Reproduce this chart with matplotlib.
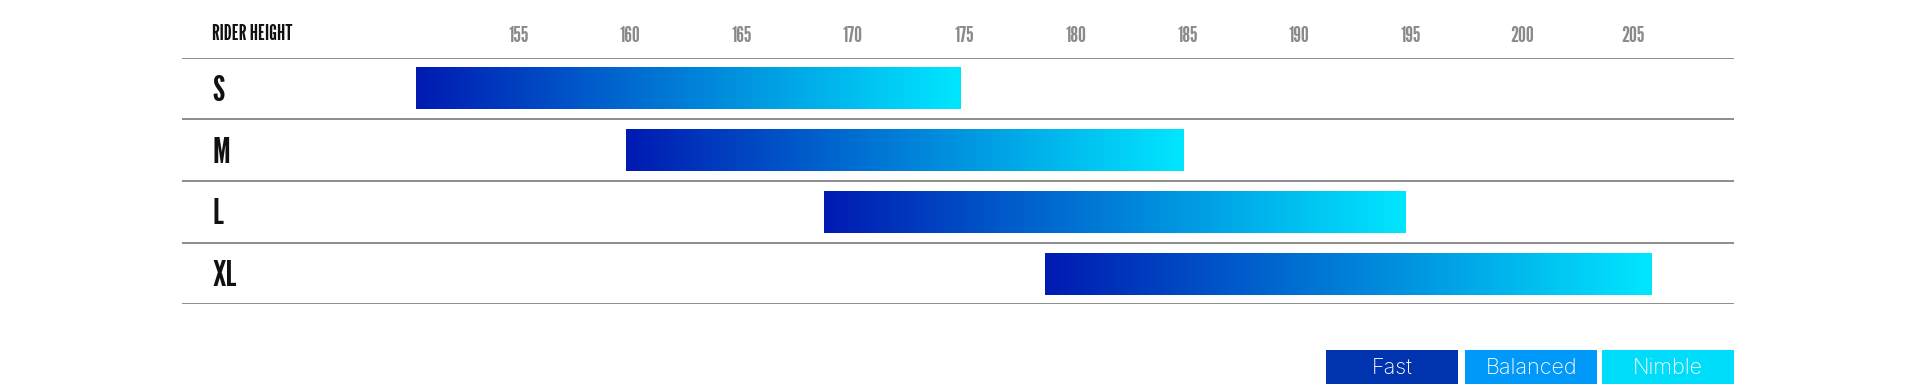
import numpy as np
import matplotlib
matplotlib.use("Agg")
import matplotlib.pyplot as plt
from matplotlib.colors import LinearSegmentedColormap
from matplotlib.patches import Rectangle
from matplotlib.transforms import ScaledTranslation, blended_transform_factory

# ---- data ----
sizes = ["S", "M", "L", "XL"]
height_min = [150.6, 160, 168.9, 178.8]
height_max = [175, 185, 195, 206]
tick_values = [155, 160, 165, 170, 175, 180, 185, 190, 195, 200, 205]
tick_labels = [str(v) for v in tick_values]
header = "RIDER HEIGHT"
legend_labels = ["Fast", "Balanced", "Nimble"]
legend_colors = ["#0033AE", "#0099FA", "#00DDFB"]

COND = ["League Gothic", "Bebas Neue", "DejaVu Sans"]
LIGHT = ["Inter", "Lato", "DejaVu Sans"]

W, H = 1920, 384
fig = plt.figure(figsize=(W / 100, H / 100), dpi=100)
fig.patch.set_facecolor("white")

left, right = 182 / W, 1734 / W
bottom, top = 1 - 304.4 / H, 1 - 57.5 / H
ax = fig.add_axes([left, bottom, right - left, top - bottom])

cmap = LinearSegmentedColormap.from_list("grad", ["#001AB2", "#0080D8", "#00E6FF"])
grad = np.linspace(0, 1, 256).reshape(1, -1)
bar_h = 0.68
for i, (lo, hi) in enumerate(zip(height_min, height_max)):
    ax.imshow(grad, cmap=cmap, aspect="auto",
              extent=(lo, hi, i + bar_h / 2, i - bar_h / 2),
              interpolation="bicubic", zorder=2)

for yy in np.arange(-0.5, len(sizes), 1.0):
    ax.axhline(yy, color="#8c8c8c", lw=1.4, zorder=3)

ax.set_xlim(140.09, 209.69)
ax.set_ylim(len(sizes) - 0.5, -0.5)

for s in ax.spines.values():
    s.set_visible(False)
ax.set_yticks([])
ax.xaxis.set_ticks_position("top")
ax.set_xticks(tick_values)
ax.set_xticklabels(tick_labels, fontfamily=COND,
                   fontsize=16, color="#8a8a8a")
ax.tick_params(axis="x", length=0, pad=8.5)
off = ScaledTranslation(4 / 100, 0, fig.dpi_scale_trans)
for lab in ax.get_xticklabels():
    lab.set_transform(lab.get_transform() + off)

row_tr = blended_transform_factory(fig.transFigure, ax.transData)
for i, s in enumerate(sizes):
    ax.text(212 / W, i + 0.05, s, transform=row_tr,
            ha="left", va="center", fontfamily=COND,
            fontsize=26, color="#111111")

fig.text(212 / W, 1 - 34 / H, header, ha="left", va="center", fontfamily=COND,
         fontsize=15.5, color="#111111")

box_x = [1326, 1465, 1602]
box_w = 132
for x0, lab, c in zip(box_x, legend_labels, legend_colors):
    fig.add_artist(Rectangle((x0 / W, 0), box_w / W, 34 / H, transform=fig.transFigure,
                             facecolor=c, edgecolor="none", zorder=1))
    fig.text((x0 + box_w / 2) / W, 1 - 368 / H, lab, ha="center", va="center",
             fontfamily=LIGHT, fontweight="light", fontsize=15.5, color="white", zorder=5)

fig.savefig("out.png", dpi=100, facecolor="white")
